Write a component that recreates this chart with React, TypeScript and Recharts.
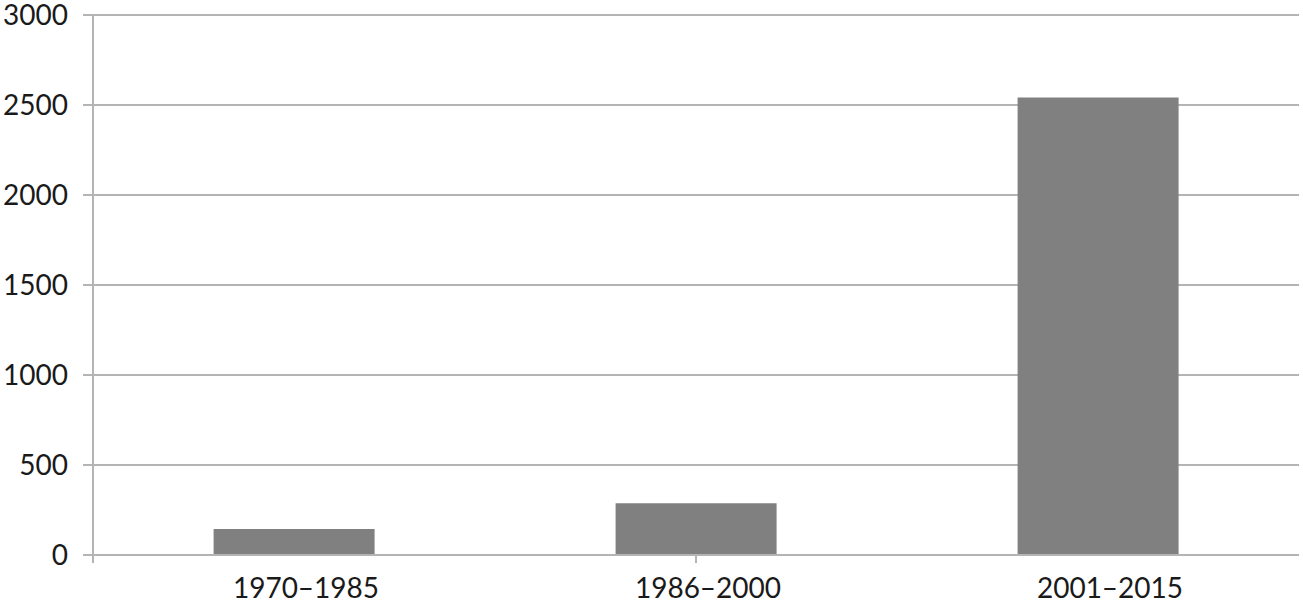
import { BarChart, Bar, XAxis, YAxis, CartesianGrid } from 'recharts'

const periods = ['1970–1985', '1986–2000', '2001–2015']
const counts = [144, 288, 2542]
const yTicks = [0, 500, 1000, 1500, 2000, 2500, 3000]
const edgeTicks = [0, 1, 2, 3]

const GRID = '#b4b4b4'
const TEXT = '#1a1a1a'
const FONT = 'Lato, sans-serif'

export default function App() {
  const data = periods.map((p, i) => ({ period: p, count: counts[i] }))

  return (
    <div style={{ position: 'absolute', left: 0, top: 0, background: '#fff' }}>
      <BarChart
        width={1303}
        height={607}
        data={data}
        margin={{ top: 15, right: 4, bottom: 0, left: 0 }}
        barCategoryGap="30%"
      >
        <CartesianGrid vertical={false} stroke={GRID} strokeWidth={2} />
        {/* boundary ticks between categories */}
        <XAxis
          xAxisId="a-edge"
          type="number"
          domain={[0, 3]}
          ticks={edgeTicks}
          tickFormatter={() => ''}
          tickSize={8}
          height={8}
          axisLine={{ stroke: GRID, strokeWidth: 2 }}
          tickLine={{ stroke: GRID, strokeWidth: 2 }}
        />
        <XAxis
          xAxisId="b-cat"
          dataKey="period"
          axisLine={false}
          tickLine={false}
          tickSize={0}
          tickMargin={15}
          height={44}
          tick={{ fontSize: 28, fill: TEXT, fontFamily: FONT, dx: 12 }}
        />
        <YAxis
          domain={[0, 3000]}
          ticks={yTicks}
          interval={0}
          width={93}
          tickSize={10}
          tickMargin={15}
          axisLine={{ stroke: GRID, strokeWidth: 2 }}
          tickLine={{ stroke: GRID, strokeWidth: 2 }}
          tick={{ fontSize: 28, fill: TEXT, fontFamily: FONT }}
        />
        <Bar xAxisId="b-cat" dataKey="count" fill="#808080" isAnimationActive={false} />
      </BarChart>
    </div>
  )
}
